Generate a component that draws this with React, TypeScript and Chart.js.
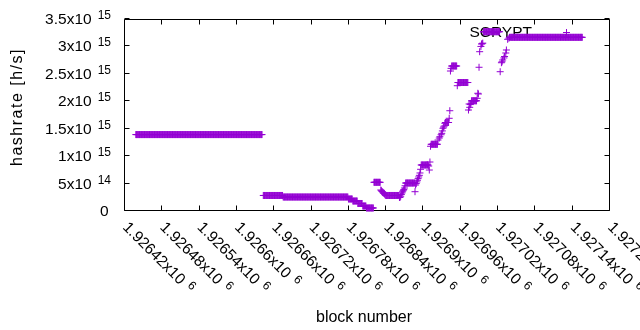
import React, { useEffect, useRef } from "react";
import { Chart, registerables } from "chart.js";

Chart.register(...registerables);

// ---- axis ranges / ticks ----
const X_MIN = 1926420;
const X_MAX = 1927200;
const X_STEP = 60;
const Y_MIN = 0;
const Y_MAX = 3.5e15;
const Y_STEP = 5e14;

// ---- data: stretches where the hashrate stays constant (first block, last block, value) ----
const runFirstBlock = [
  1926439, 1926644, 1926676, 1926781, 1926788, 1926796, 1926804, 1926810, 1926822, 1926841,
  1926873, 1926898, 1926914, 1926937, 1926947, 1926957, 1926979, 1926998, 1927040,
];
const runLastBlock = [
  1926642, 1926675, 1926780, 1926787, 1926795, 1926803, 1926809, 1926821, 1926832, 1926862,
  1926887, 1926909, 1926924, 1926942, 1926955, 1926973, 1926987, 1927024, 1927157,
];
const runHashrate = [
  1.393e15, 2.83e14, 2.55e14, 2.19e14, 1.82e14, 1.37e14, 9.1e13, 5.5e13, 5.23e14, 2.83e14,
  5.1e14, 8.39e14, 1.216e15, 1.613e15, 2.643e15, 2.342e15, 2.009e15, 3.268e15, 3.166e15,
];

// ---- data: individual blocks in the transitions ----
const pointBlock = [
  1926833, 1926834, 1926835, 1926836, 1926837, 1926838, 1926839, 1926840,
  1926863, 1926864, 1926865,
  1926866, 1926867, 1926868, 1926869, 1926870, 1926871, 1926872,
  1926888,
  1926889, 1926890, 1926891, 1926892, 1926893, 1926894, 1926895, 1926896, 1926897,
  1926910, 1926911, 1926912, 1926913,
  1926925, 1926927, 1926928, 1926930, 1926931, 1926932, 1926933, 1926934, 1926935, 1926936,
  1926943, 1926944, 1926945, 1926946,
  1926956,
  1926974, 1926975, 1926976, 1926977, 1926978,
  1926988, 1926989, 1926990, 1926991, 1926992, 1926994, 1926995, 1926996, 1926997,
  1927025, 1927027, 1927028, 1927029, 1927031, 1927032, 1927034, 1927035, 1927037, 1927039,
];
const pointHashrate = [
  3.83e14, 3.7e14, 3.55e14, 3.45e14, 3.3e14, 3.2e14, 3.1e14, 2.95e14,
  2.46e14, 2.5e14, 2.7e14,
  3.0e14, 3.28e14, 3.5e14, 3.7e14, 3.9e14, 4.19e14, 4.6e14,
  3.52e14,
  4.74e14, 5.0e14, 5.3e14, 5.6e14, 5.9e14, 6.2e14, 6.5e14, 6.93e14, 7.6e14,
  8.2e14, 7.47e14, 8.93e14, 1.18e15,
  1.294e15, 1.33e15, 1.354e15, 1.39e15, 1.416e15, 1.46e15, 1.508e15, 1.53e15, 1.549e15, 1.599e15,
  1.69e15, 1.828e15, 2.552e15, 2.6e15,
  2.284e15,
  1.841e15, 1.951e15, 1.89e15, 1.94e15, 1.963e15,
  2.054e15, 2.146e15, 2.133e15, 2.62e15, 2.904e15, 3.0e15, 3.044e15, 3.05e15, 3.06e15,
  2.539e15, 2.703e15, 2.72e15, 2.753e15, 2.79e15, 2.816e15, 2.88e15, 2.935e15, 3.13e15, 3.15e15,
];

const SERIES_LABEL = "SCRYPT";
const X_TITLE = "block number";
const Y_TITLE = "hashrate [h/s]";
const COLOR = "#9400d3";
const FONT = '"Liberation Sans", Arial, sans-serif';
const MAIN_PX = 15.5;
const SUP_PX = 12;
const TITLE_PX = 16;

function buildData() {
  const pts: { x: number; y: number }[] = [];
  for (let i = 0; i < runFirstBlock.length; i++) {
    for (let b = runFirstBlock[i]; b <= runLastBlock[i]; b++) pts.push({ x: b, y: runHashrate[i] });
  }
  for (let i = 0; i < pointBlock.length; i++) pts.push({ x: pointBlock[i], y: pointHashrate[i] });
  pts.sort((a, b) => a.x - b.x);
  return pts;
}

function sciParts(v: number): [string, string] {
  if (v === 0) return ["0", ""];
  const e = Math.floor(Math.log10(Math.abs(v)) + 1e-9);
  const m = v / Math.pow(10, e);
  return [String(Number(m.toFixed(6))) + "x10", String(e)];
}

const gnuplotFrame = {
  id: "gnuplotFrame",
  beforeDatasetsDraw(chart: any) {
    const { ctx, chartArea: a, scales } = chart;
    const xs = scales.x;
    const ys = scales.y;
    const L = Math.floor(a.left) + 0.5;
    const R = Math.floor(a.right) + 0.5;
    const T = Math.floor(a.top) + 0.5;
    const B = Math.floor(a.bottom) - 0.5;
    const TL = 5;
    ctx.save();
    ctx.strokeStyle = "#000";
    ctx.lineWidth = 1;
    ctx.beginPath();
    ctx.rect(L, T, R - L, B - T);
    xs.ticks.forEach((t: any) => {
      const px = Math.round(xs.getPixelForValue(t.value)) + 0.5;
      ctx.moveTo(px, B);
      ctx.lineTo(px, B - TL);
      ctx.moveTo(px, T);
      ctx.lineTo(px, T + TL);
    });
    ys.ticks.forEach((t: any) => {
      const py = Math.round(ys.getPixelForValue(t.value)) - 0.5;
      ctx.moveTo(L, py);
      ctx.lineTo(L + TL, py);
      ctx.moveTo(R, py);
      ctx.lineTo(R - TL, py);
    });
    ctx.stroke();

    ctx.fillStyle = "#000";
    ctx.textBaseline = "alphabetic";
    const mainFont = `${MAIN_PX}px ${FONT}`;
    const supFont = `${SUP_PX}px ${FONT}`;
    const titleFont = `${TITLE_PX}px ${FONT}`;
    const SUP_GAP = 6;
    const SUP_RISE = 5;

    // y tick labels
    ys.ticks.forEach((t: any) => {
      const py = ys.getPixelForValue(t.value);
      const [main, exp] = sciParts(t.value);
      ctx.font = mainFont;
      const mw = ctx.measureText(main).width;
      ctx.font = supFont;
      const sw = exp ? ctx.measureText(exp).width : 0;
      const right = exp ? a.left - 13 : a.left - 15.5;
      const total = mw + (exp ? SUP_GAP + sw : 0);
      ctx.textAlign = "left";
      ctx.font = mainFont;
      ctx.fillText(main, right - total, py + 5);
      if (exp) {
        ctx.font = supFont;
        ctx.fillText(exp, right - sw, py + 5 - SUP_RISE);
      }
    });

    // x tick labels, rotated 45 degrees clockwise
    xs.ticks.forEach((t: any) => {
      const px = xs.getPixelForValue(t.value);
      const [main, exp] = sciParts(t.value);
      ctx.save();
      ctx.translate(px - 2, a.bottom + 17);
      ctx.rotate(Math.PI / 4);
      ctx.textAlign = "left";
      ctx.font = mainFont;
      ctx.fillText(main, 0, 0);
      const mw = ctx.measureText(main).width;
      ctx.font = supFont;
      ctx.fillText(exp, mw + SUP_GAP, -SUP_RISE);
      ctx.restore();
    });

    // axis titles
    ctx.font = titleFont;
    ctx.textAlign = "center";
    ctx.fillText(X_TITLE, (a.left + a.right) / 2 - 2.5, 322);
    ctx.save();
    ctx.translate(21.5, (a.top + a.bottom) / 2 - 8);
    ctx.rotate(-Math.PI / 2);
    (ctx as any).letterSpacing = "1.5px";
    ctx.fillText(Y_TITLE, 0, 0);
    (ctx as any).letterSpacing = "0px";
    ctx.restore();

    // key text
    ctx.font = mainFont;
    ctx.textAlign = "right";
    ctx.fillText(SERIES_LABEL, a.right - 77, a.top + 17.5);
    ctx.restore();
  },
  afterDatasetsDraw(chart: any) {
    const { ctx, chartArea: a } = chart;
    const cx = a.right - 42.5;
    const cy = a.top + 13.5;
    ctx.save();
    ctx.strokeStyle = COLOR;
    ctx.lineWidth = 1;
    ctx.beginPath();
    ctx.moveTo(cx - 3.5, cy);
    ctx.lineTo(cx + 3.5, cy);
    ctx.moveTo(cx, cy - 3.5);
    ctx.lineTo(cx, cy + 3.5);
    ctx.stroke();
    ctx.restore();
  },
};

export default function App() {
  const ref = useRef<HTMLCanvasElement>(null);
  useEffect(() => {
    const chart = new Chart(ref.current as HTMLCanvasElement, {
      type: "scatter",
      data: {
        datasets: [
          {
            label: SERIES_LABEL,
            data: buildData(),
            pointStyle: "cross",
            pointRadius: 3.5,
            pointBorderWidth: 1,
            borderColor: COLOR,
            backgroundColor: COLOR,
            showLine: false,
            clip: false,
          } as any,
        ],
      },
      options: {
        responsive: false,
        animation: false,
        events: [],
        layout: { padding: { top: 19, right: 31, left: 0, bottom: 0 } },
        plugins: { legend: { display: false }, tooltip: { enabled: false } },
        scales: {
          x: {
            type: "linear",
            min: X_MIN,
            max: X_MAX,
            ticks: { stepSize: X_STEP, display: false, maxTicksLimit: 50 },
            grid: { display: false },
            border: { display: false },
            afterFit: (s: any) => {
              s.height = 119;
            },
          },
          y: {
            type: "linear",
            min: Y_MIN,
            max: Y_MAX,
            ticks: { stepSize: Y_STEP, display: false, maxTicksLimit: 50 },
            grid: { display: false },
            border: { display: false },
            afterFit: (s: any) => {
              s.width = 124;
            },
          },
        },
      } as any,
      plugins: [gnuplotFrame],
    });
    return () => chart.destroy();
  }, []);
  return (
    <div style={{ position: "fixed", left: 0, top: 0, width: 640, height: 330, background: "#fff" }}>
      <canvas ref={ref} width={640} height={330} style={{ display: "block" }} />
    </div>
  );
}
